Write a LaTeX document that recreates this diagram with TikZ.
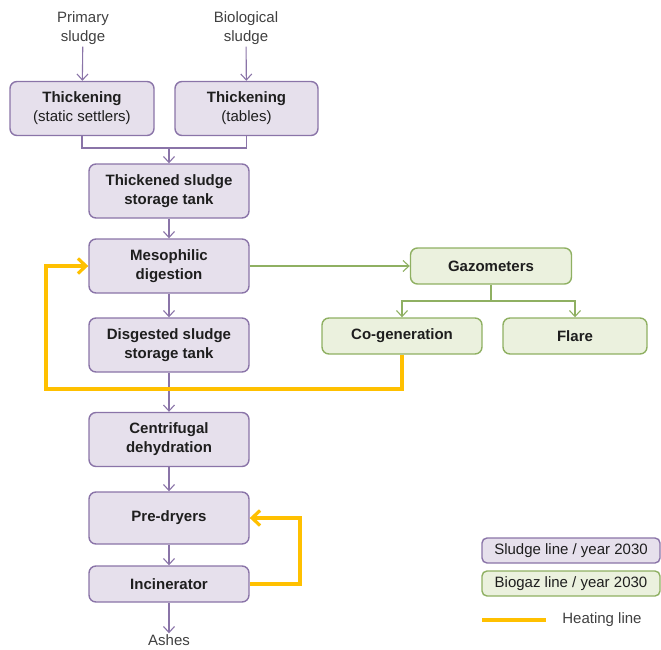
\documentclass[tikz,border=0pt]{standalone}
\usepackage{fontspec}
\setmainfont{Liberation Sans}
\usetikzlibrary{arrows.meta,positioning}
\definecolor{sludgeb}{HTML}{8A74A8}
\definecolor{sludgef}{HTML}{E6E0EC}
\definecolor{gazb}{HTML}{8FB062}
\definecolor{gazf}{HTML}{EBF1DE}
\definecolor{heatc}{HTML}{FFC000}
\definecolor{txt}{HTML}{1E1E1E}
\newcommand\boxfont{\fontsize{15}{19}\selectfont}
\tikzset{
  box/.style={draw, rounded corners=7pt, align=center, inner sep=2pt, line width=1.4pt, text=txt, font=\boxfont\bfseries},
  sl/.style={box, fill=sludgef, draw=sludgeb, minimum width=160pt, minimum height=54pt},
  gz/.style={box, fill=gazf, draw=gazb, minimum width=160pt, minimum height=36pt},
  leg/.style={box, rounded corners=5pt, font=\boxfont, minimum width=178pt, minimum height=25pt},
  lbl/.style={font=\boxfont, text=txt!85, align=center, inner sep=2pt},
  fl/.style={-{Straight Barb[length=6pt, width=11pt]}, line width=1.1pt, draw=sludgeb},
  gfl/.style={-{Straight Barb[length=6pt, width=11pt]}, line width=1.1pt, draw=gazb},
  heat/.style={-{Straight Barb[length=8pt, width=15pt, line width=3.2pt]}, line width=3.5pt, draw=heatc},
}
\begin{document}
\begin{tikzpicture}[x=1pt, y=-1pt]
  \useasboundingbox (0,0) rectangle (661,650);
  % sludge line
  \node[lbl] (prim) at (83,28) {Primary\\sludge};
  \node[lbl] (bio) at (246,28) {Biological\\sludge};
  \node[sl, minimum width=144pt] (th1) at (82,108.5) {Thickening\\{\mdseries (static settlers)}};
  \node[sl, minimum width=143pt] (th2) at (246.5,108.5) {Thickening\\{\mdseries (tables)}};
  \node[sl] (tank) at (169,191) {Thickened sludge\\storage tank};
  \node[sl] (meso) at (169,266) {Mesophilic\\digestion};
  \node[sl] (dig) at (169,345) {Disgested sludge\\storage tank};
  \node[sl] (cent) at (169,439.5) {Centrifugal\\dehydration};
  \node[sl, minimum height=52pt] (pre) at (169,518) {Pre-dryers};
  \node[sl, minimum height=36pt] (inc) at (169,584) {Incinerator};
  \node[lbl, inner sep=1pt] (ash) at (169,640) {Ashes};
  \draw[fl] (prim) -- (th1);
  \draw[fl] (bio) -- (th2);
  \coordinate (mrg) at (169,148);
  \draw[fl, -] (th1) |- (mrg);
  \draw[fl, -] (th2) |- (mrg);
  \draw[fl] (mrg) -- (tank);
  \foreach \a/\b in {tank/meso,meso/dig,dig/cent,cent/pre,pre/inc,inc/ash} \draw[fl] (\a)--(\b);
  % biogas line
  \node[gz, minimum width=161pt] (gaz) at (491,266) {Gazometers};
  \node[gz] (cogen) at (402,336) {Co-generation};
  \node[gz, minimum width=144pt] (flare) at (575,336) {Flare};
  \draw[gfl] (meso) -- (gaz);
  \coordinate (gsp) at (491,301);
  \draw[gfl, -] (gaz) -- (gsp);
  \draw[gfl] (gsp) -| (cogen);
  \draw[gfl] (gsp) -| (flare);
  % heating
  \coordinate (hl) at (46,389);
  \draw[heat] (cogen.south) |- (hl) |- (meso.west);
  \coordinate (hr) at (300,584);
  \draw[heat] (inc.east) -- (hr) |- (pre.east);
  % legend
  \node[leg, fill=sludgef, draw=sludgeb] (lsl) at (571,550.5) {Sludge line / year 2030};
  \node[leg, fill=gazf, draw=gazb] (lgz) at (571,583.5) {Biogaz line / year 2030};
  \coordinate (ha) at (482,620);
  \coordinate (hb) at (546,620);
  \draw[heat, -] (ha) -- (hb);
  \node[lbl] (lht) at (602,620) {Heating line};
\end{tikzpicture}
\end{document}
